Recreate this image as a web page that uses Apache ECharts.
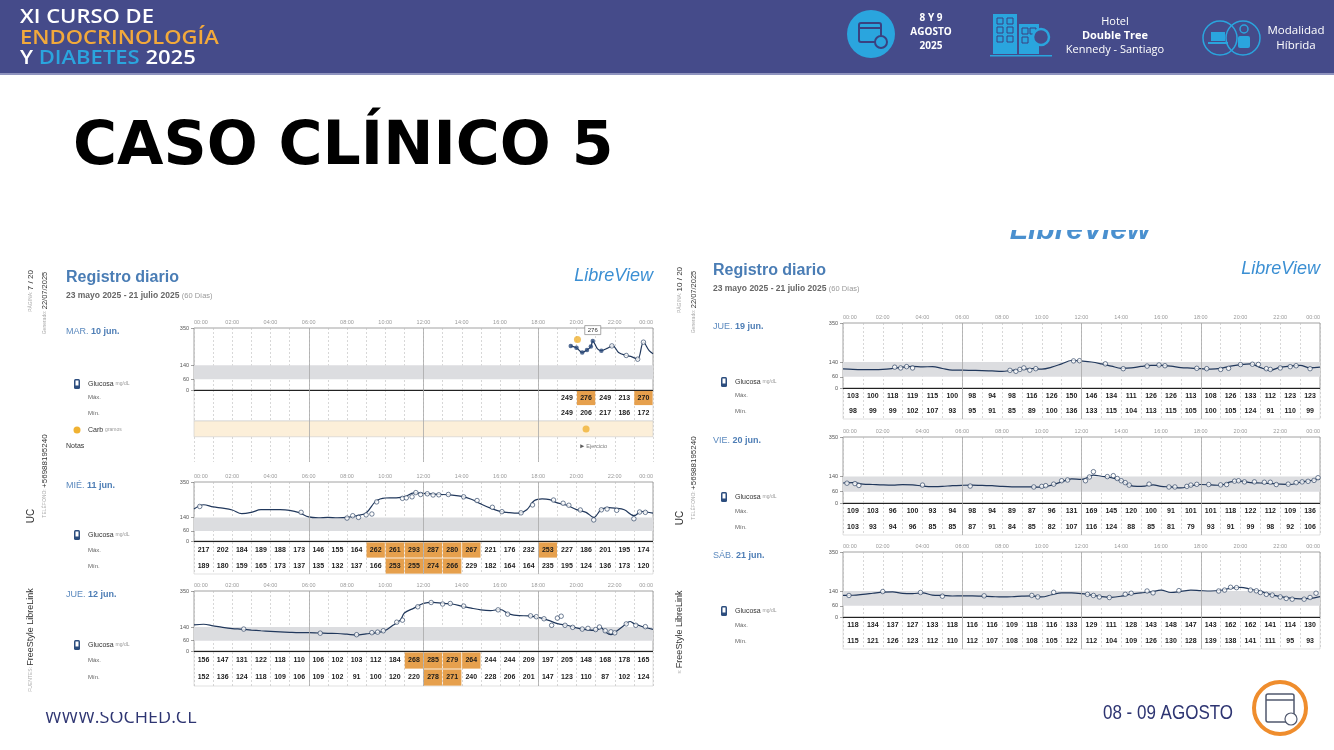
<!DOCTYPE html>
<html>
<head>
<meta charset="utf-8">
<script src="https://cdn.jsdelivr.net/npm/echarts@6/dist/echarts.min.js"></script>
<style>
html,body{margin:0;padding:0;background:#fff}
#main{width:1334px;height:750px}
</style>
</head>
<body>
<div id="main"></div>
<script>
var tickHours = [0, 2, 4, 6, 8, 10, 12, 14, 16, 18, 20, 22, 24];
var yTicks = [0, 60, 140, 350];
var sixHourLines = [6, 12, 18];
var highLimit = 250;

// MAR. 10 jun. (sólo desde las 19:00)
var mar10Start = 19;
var mar10Max = [249, 276, 249, 213, 270];
var mar10Min = [249, 206, 217, 186, 172];
var mar10Curve = [[19.7,249],[20.0,238],[20.3,212],[20.55,226],[20.75,245],[20.85,276],[21.1,232],[21.3,222],[21.6,235],[21.9,249],[22.2,212],[22.6,195],[22.9,187],[23.2,174],[23.5,270],[23.8,222],[24,205]];
var mar10Dots = [[19.7,249],[20.0,238],[20.3,212],[20.55,226],[20.75,245],[20.85,276],[21.3,222]];
var mar10Scans = [[21.85,249],[22.6,195],[23.2,174],[23.5,270]];
var mar10Carb = [[20.05,285]];
var mar10CarbRow = [[20.5,0.5]];
var mar10Notes = [[20.3,1.6,'Ejercicio']];

// MIÉ. 11 jun.
var mie11Max = [217,202,184,189,188,173,146,155,164,262,261,293,287,280,267,221,176,232,253,227,186,201,195,174];
var mie11Min = [189,180,159,165,173,137,135,132,137,166,253,255,274,266,229,182,164,164,235,195,124,136,173,120];
var mie11Curve = [[0,190],[0.5,215],[1,202],[1.5,195],[2,184],[2.5,162],[3,170],[3.5,186],[4,186],[4.5,186],[5,182],[5.5,168],[6,143],[6.5,138],[7,140],[7.5,138],[8,140],[8.5,150],[9,166],[9.5,235],[10,255],[10.5,256],[11,262],[11.5,285],[12,283],[12.5,278],[13,276],[13.5,272],[14,265],[14.5,248],[15,220],[15.5,195],[16,176],[16.5,168],[17,165],[17.4,185],[17.8,240],[18.2,250],[18.6,245],[19,226],[19.5,212],[20,186],[20.5,170],[20.9,140],[21.3,188],[21.7,198],[22,195],[22.5,185],[23,150],[23.4,175],[24,165]];
var mie11Scans = [[0.3,205],[5.6,170],[8.0,136],[8.3,150],[8.6,140],[9.0,155],[9.3,160],[9.55,232],[10.9,253],[11.1,256],[11.4,262],[11.6,287],[11.85,276],[12.2,280],[12.5,273],[12.8,274],[13.3,276],[14.1,262],[14.8,240],[15.6,200],[16.1,174],[17.1,167],[17.7,214],[18.8,243],[19.3,224],[19.6,212],[20.2,184],[20.9,125],[21.3,185],[21.6,190],[22.1,182],[23.0,132],[23.3,172],[23.6,170]];

// JUE. 12 jun.
var jue12Max = [156,147,131,122,118,110,106,102,103,112,184,268,285,279,264,244,244,209,197,205,148,168,178,165];
var jue12Min = [152,136,124,118,109,106,109,102,91,100,120,220,278,271,240,228,206,201,147,123,110,87,102,124];
var jue12Curve = [[0,152],[0.5,156],[1,147],[1.5,138],[2,131],[2.5,127],[3,122],[3.5,118],[4,115],[4.5,112],[5,109],[5.5,107],[6,107],[6.5,105],[7,103],[7.5,102],[8,98],[8.5,93],[9,100],[9.5,106],[10,120],[10.4,150],[10.8,182],[11,222],[11.5,250],[12,278],[12.5,284],[13,278],[13.5,274],[14,262],[14.5,250],[15,240],[15.5,236],[16,242],[16.5,215],[17,206],[17.5,205],[18,196],[18.5,180],[19,160],[19.5,150],[20,135],[20.5,125],[21,120],[21.3,135],[21.5,112],[21.8,95],[22,108],[22.5,150],[22.8,172],[23,160],[23.5,140],[24,126]];
var jue12Scans = [[2.6,128],[6.6,104],[8.5,95],[9.3,107],[9.6,110],[9.9,118],[10.6,168],[10.9,180],[11.7,258],[12.4,283],[13.0,274],[13.4,277],[14.1,262],[15.9,240],[16.4,215],[17.6,205],[17.9,200],[18.3,188],[18.7,150],[19.0,192],[19.2,203],[19.4,150],[19.8,138],[20.3,128],[20.6,132],[21.0,125],[21.2,140],[21.5,118],[21.8,112],[22.0,106],[22.6,158],[23.1,150],[23.6,142]];

// JUE. 19 jun.
var jue19Max = [103,100,118,119,115,100,98,94,98,116,126,150,146,134,111,126,126,113,108,126,133,112,123,123];
var jue19Min = [98,99,99,102,107,93,95,91,85,89,100,136,133,115,104,113,115,105,100,105,124,91,110,99];
var jue19Curve = [[0,103],[0.5,100],[1,99],[1.5,99],[2,100],[2.5,105],[3,112],[3.5,116],[4,114],[4.5,115],[5,105],[5.5,96],[6,96],[6.5,95],[7,94],[7.5,92],[8,90],[8.5,95],[9,100],[9.5,105],[10,102],[10.5,112],[11,130],[11.5,148],[12,145],[12.5,140],[13,130],[13.5,118],[14,106],[14.5,108],[15,116],[15.5,122],[16,122],[16.5,118],[17,110],[17.5,107],[18,104],[18.5,102],[19,106],[19.5,118],[20,126],[20.5,130],[21,110],[21.5,96],[22,112],[22.5,118],[23,122],[23.5,108],[24,112]];
var jue19Scans = [[2.6,112],[2.9,108],[3.2,115],[3.5,108],[8.4,95],[8.7,90],[8.9,100],[9.1,108],[9.4,96],[9.7,104],[11.6,146],[11.9,147],[13.2,130],[14.1,104],[15.3,118],[15.9,124],[16.2,120],[17.8,106],[18.3,104],[19.0,100],[19.4,106],[20.0,126],[20.6,128],[20.9,127],[21.3,104],[21.5,100],[22.0,108],[22.5,115],[22.8,120],[23.5,104]];

// VIE. 20 jun.
var vie20Max = [109,103,96,100,93,94,98,94,89,87,96,131,169,145,120,100,91,101,101,118,122,112,109,136];
var vie20Min = [103,93,94,96,85,85,87,91,84,85,82,107,116,124,88,85,81,79,93,91,99,98,92,106];
var vie20Curve = [[0,106],[0.5,108],[1,100],[1.5,98],[2,96],[2.5,95],[3,97],[3.5,96],[4,90],[4.5,87],[5,88],[5.5,92],[6,94],[6.5,95],[7,93],[7.5,92],[8,88],[8.5,86],[9,86],[9.5,85],[10,84],[10.5,95],[11,112],[11.5,128],[12,125],[12.3,135],[12.6,148],[13,142],[13.5,135],[14,118],[14.4,95],[14.8,88],[15.2,90],[15.6,96],[16,88],[16.5,85],[17,80],[17.5,92],[18,98],[18.5,96],[19,94],[19.5,112],[20,116],[20.5,108],[21,106],[21.5,104],[22,100],[22.5,98],[23,110],[23.5,118],[24,128]];
var vie20Scans = [[0.2,105],[0.6,103],[0.8,93],[4.0,95],[6.4,90],[9.6,85],[10.0,88],[10.2,92],[10.6,100],[11.0,118],[11.3,122],[12.2,118],[12.4,138],[12.6,166],[13.3,140],[13.6,145],[13.8,130],[14.0,118],[14.2,108],[14.4,95],[15.4,100],[16.4,85],[16.7,85],[17.3,88],[17.5,95],[17.8,99],[18.4,98],[19.0,96],[19.3,98],[19.7,116],[19.9,118],[20.2,112],[20.7,112],[21.2,110],[21.5,110],[21.8,98],[22.4,100],[22.8,108],[23.1,112],[23.4,115],[23.7,120],[23.9,134]];

// SÁB. 21 jun.
var sab21Max = [118,134,137,127,133,118,116,116,109,118,116,133,129,111,128,143,148,147,143,162,162,141,114,130];
var sab21Min = [115,121,126,123,112,110,112,107,108,108,105,122,112,104,109,126,130,128,139,138,141,111,95,93];
var sab21Curve = [[0,116],[0.5,117],[1,122],[1.5,128],[2,134],[2.5,135],[3,127],[3.5,126],[4,130],[4.5,118],[5,116],[5.5,113],[6,114],[6.5,114],[7,112],[7.5,110],[8,108],[8.5,109],[9,112],[9.5,114],[10,108],[10.5,120],[11,130],[11.5,130],[12,126],[12.5,118],[13,110],[13.5,106],[14,112],[14.5,124],[15,130],[15.5,135],[16,145],[16.5,132],[17,138],[17.5,145],[18,142],[18.5,140],[19,144],[19.5,155],[20,160],[20.5,150],[21,138],[21.5,122],[22,110],[22.5,102],[23,98],[23.5,100],[24,110]];
var sab21Scans = [[0.3,116],[2.0,137],[3.9,132],[5.0,112],[7.1,114],[9.5,116],[9.8,108],[10.6,133],[12.3,122],[12.6,116],[12.9,108],[13.4,105],[14.2,122],[14.5,128],[15.3,140],[15.6,130],[16.9,142],[18.9,140],[19.2,145],[19.5,160],[19.8,158],[20.5,145],[20.8,141],[21.0,132],[21.3,122],[21.6,118],[22.0,108],[22.3,100],[22.6,96],[23.2,96],[23.5,105],[23.8,128]];

// ---- composición ----
var FONT = '"Liberation Sans", Arial, sans-serif';
var NAVY = '#21385c';
var chart = echarts.init(document.getElementById('main'));
var grid = [], xAxis = [], yAxis = [], series = [], graphic = [];

function hourLabel(v) { var h = v % 24; return (h < 10 ? '0' : '') + h + ':00'; }
var dashed = {show: true, lineStyle: {color: '#bdbdbd', width: 0.6, type: [2, 2]}};
var solidLines = {silent: true, symbol: 'none', label: {show: false},
  lineStyle: {color: '#a8a8a8', type: 'solid', width: 0.8},
  data: sixHourLines.map(function (h) { return {xAxis: h}; })};

function renderCell(params, api) {
  var h = api.value(0), r = api.value(1), v = api.value(2);
  var a = api.coord([h, r]), b = api.coord([h + 1, r + 1]);
  var x = Math.min(a[0], b[0]), y = Math.min(a[1], b[1]);
  var w = Math.abs(b[0] - a[0]), hh = Math.abs(b[1] - a[1]);
  return {type: 'group', children: [
    {type: 'rect', shape: {x: x + 0.4, y: y + 0.4, width: w - 0.8, height: hh - 0.8},
      style: {fill: v > highLimit ? '#e6a04d' : 'rgba(0,0,0,0)'}},
    {type: 'text', style: {text: String(v), x: x + w / 2, y: y + hh / 2, align: 'center', verticalAlign: 'middle',
      fontSize: 7, fontWeight: 'bold', fontFamily: FONT, fill: '#1b1b1b'}}
  ]};
}

function addPlot(L, curve, scans, dots) {
  var gi = grid.length;
  grid.push({left: L.x, top: L.top, width: L.w, height: L.h, show: true, borderColor: '#8a8a8a', borderWidth: 0.8});
  xAxis.push({gridIndex: gi, type: 'value', min: 0, max: 24, interval: 1, position: 'top',
    axisLine: {show: false}, axisTick: {show: false},
    axisLabel: {customValues: tickHours, formatter: hourLabel, fontSize: 5.5, color: '#9a9a9a', margin: 3,
      fontFamily: FONT, alignMinLabel: 'left', alignMaxLabel: 'right'},
    splitLine: dashed});
  yAxis.push({gridIndex: gi, type: 'value', min: 0, max: 350, axisLine: {show: false}, splitLine: {show: false},
    axisTick: {show: true, customValues: yTicks, length: 3, lineStyle: {color: '#666', width: 0.6}},
    axisLabel: {customValues: yTicks, fontSize: 5.5, color: '#555', margin: 5, fontFamily: FONT}});
  var ml = JSON.parse(JSON.stringify(solidLines));
  ml.data.push({yAxis: 0, lineStyle: {color: '#222', width: 1.2}});
  series.push({type: 'line', xAxisIndex: gi, yAxisIndex: gi, data: curve, smooth: 0.35, showSymbol: false,
    lineStyle: {color: NAVY, width: 1.2}, z: 3, silent: true,
    markArea: {silent: true, itemStyle: {color: '#dcdde0'}, data: [[{yAxis: 60}, {yAxis: 140}]]},
    markLine: ml});
  series.push({type: 'scatter', xAxisIndex: gi, yAxisIndex: gi, data: scans, symbol: 'circle', symbolSize: 4.5,
    itemStyle: {color: '#fff', borderColor: NAVY, borderWidth: 0.8}, z: 4, silent: true});
  if (dots) {
    series.push({type: 'scatter', xAxisIndex: gi, yAxisIndex: gi, data: dots, symbol: 'circle', symbolSize: 4.5,
      itemStyle: {color: '#2b4a7a'}, z: 4, silent: true,
      markPoint: {silent: true, data: [{coord: [20.85, 276], value: 276}], symbol: 'rect', symbolSize: [16, 9], symbolOffset: [0, -11],
        itemStyle: {color: '#fff', borderColor: '#777', borderWidth: 0.6},
        label: {show: true, formatter: '276', fontSize: 6, color: '#333', fontFamily: FONT}}});
  }
  return gi;
}

function addTable(L, start, maxArr, minArr) {
  var gi = grid.length;
  grid.push({left: L.x, top: L.top + L.h + L.gap, width: L.w, height: L.rowH * 2, show: true, borderColor: '#cfcfcf', borderWidth: 0.6});
  xAxis.push({gridIndex: gi, type: 'value', min: 0, max: 24, interval: 1, axisLine: {show: false},
    axisTick: {show: false}, axisLabel: {show: false}, splitLine: dashed});
  yAxis.push({gridIndex: gi, type: 'value', min: 0, max: 2, inverse: true, show: false});
  var cells = [];
  maxArr.forEach(function (v, i) { cells.push([start + i, 0, v]); });
  minArr.forEach(function (v, i) { cells.push([start + i, 1, v]); });
  series.push({type: 'custom', xAxisIndex: gi, yAxisIndex: gi, renderItem: renderCell, data: cells, silent: true,
    markLine: JSON.parse(JSON.stringify(solidLines))});
}

function txt(x, y, text, opt) {
  var s = {text: text, fill: '#333', fontSize: 8, fontFamily: FONT, align: 'left', verticalAlign: 'middle'};
  for (var k in opt) if (k !== 'rotation' && k !== 'scaleX' && k !== 'z') s[k] = opt[k];
  return {type: 'text', x: x, y: y, rotation: opt.rotation || 0, scaleX: opt.scaleX || 1, z: opt.z || 10, style: s};
}

function dayLabels(L, lx, dow, date) {
  var glucY = L.top + L.h - 6;
  var tTop = L.top + L.h + L.gap;
  graphic.push(txt(lx, L.top + 4, '{a|' + dow + ' }{b|' + date + '}', {rich: {
    a: {fontSize: 9, fill: '#5b89be', fontFamily: FONT}, b: {fontSize: 9, fill: '#4d7db5', fontWeight: 'bold', fontFamily: FONT}}}));
  graphic.push({type: 'rect', shape: {x: lx + 8, y: glucY - 5, width: 6, height: 10, r: 1.5}, style: {fill: '#2c4d7e'}, z: 10});
  graphic.push({type: 'rect', shape: {x: lx + 9.5, y: glucY - 3.5, width: 3, height: 5}, style: {fill: '#fff'}, z: 11});
  graphic.push(txt(lx + 22, glucY, '{a|Glucosa }{b|mg/dL}', {rich: {
    a: {fontSize: 7, fill: '#333', fontFamily: FONT}, b: {fontSize: 5, fill: '#999', fontFamily: FONT}}}));
  graphic.push(txt(lx + 22, tTop + L.rowH * 0.5, 'Máx.', {fontSize: 6, fill: '#666'}));
  graphic.push(txt(lx + 22, tTop + L.rowH * 1.5, 'Mín.', {fontSize: 6, fill: '#666'}));
}

// posiciones de los paneles
var LM = {x: 194, w: 459, top: 328, h: 62, rowH: 15.5, gap: 0};
var LW = {x: 194, w: 459, top: 482, h: 59, rowH: 16, gap: 1};
var LJ = {x: 194, w: 459, top: 591, h: 60, rowH: 17, gap: 1};
var RJ = {x: 843, w: 477, top: 323, h: 65, rowH: 15.5, gap: 0};
var RV = {x: 843, w: 477, top: 437, h: 66, rowH: 16, gap: 0};
var RS = {x: 843, w: 477, top: 552, h: 65, rowH: 16, gap: 0};

// MAR 10
var gMar = addPlot(LM, mar10Curve, mar10Scans, mar10Dots);
series.push({type: 'scatter', xAxisIndex: gMar, yAxisIndex: gMar, data: mar10Carb, symbol: 'circle', symbolSize: 7,
  itemStyle: {color: '#f0b232'}, z: 5, silent: true});
addTable(LM, mar10Start, mar10Max, mar10Min);
// filas Carb / Notas
(function () {
  var gi = grid.length;
  grid.push({left: LM.x, top: LM.top + LM.h + LM.rowH * 2, width: LM.w, height: 41, show: false});
  xAxis.push({gridIndex: gi, type: 'value', min: 0, max: 24, interval: 1, axisLine: {show: false},
    axisTick: {show: false}, axisLabel: {show: false}, splitLine: dashed});
  yAxis.push({gridIndex: gi, type: 'value', min: 0, max: 2.6, inverse: true, show: false});
  series.push({type: 'scatter', xAxisIndex: gi, yAxisIndex: gi, data: mar10CarbRow, symbol: 'circle', symbolSize: 7,
    itemStyle: {color: '#f0b232'}, z: 5, silent: true,
    markArea: {silent: true, itemStyle: {color: '#fcefd9', borderColor: '#c9c9c9', borderWidth: 0.6},
      data: [[{yAxis: 0}, {yAxis: 1}]]},
    markLine: JSON.parse(JSON.stringify(solidLines))});
  series.push({type: 'scatter', xAxisIndex: gi, yAxisIndex: gi, data: mar10Notes, symbol: 'triangle', symbolRotate: -90,
    symbolSize: 4, itemStyle: {color: '#333'}, z: 5, silent: true,
    label: {show: true, position: 'right', distance: 2, formatter: function (p) { return p.data[2]; }, fontSize: 5.5, color: '#555', fontFamily: FONT}});
})();
addPlot(LW, mie11Curve, mie11Scans);
addTable(LW, 0, mie11Max, mie11Min);
addPlot(LJ, jue12Curve, jue12Scans);
addTable(LJ, 0, jue12Max, jue12Min);
addPlot(RJ, jue19Curve, jue19Scans);
addTable(RJ, 0, jue19Max, jue19Min);
addPlot(RV, vie20Curve, vie20Scans);
addTable(RV, 0, vie20Max, vie20Min);
addPlot(RS, sab21Curve, sab21Scans);
addTable(RS, 0, sab21Max, sab21Min);

// ---- encabezado ----
graphic.push({type: 'rect', shape: {x: 0, y: 0, width: 1334, height: 73}, style: {fill: '#454b8a'}, z: 1});
graphic.push({type: 'rect', shape: {x: 0, y: 73, width: 1334, height: 2}, style: {fill: '#8e93be'}, z: 1});
graphic.push(txt(20, 38, '{w|XI CURSO DE}\n{o|ENDOCRINOLOGÍA}\n{w|Y }{c|DIABETES}{w| 2025}', {scaleX: 1.1, rich: {
  w: {fontSize: 20, fill: '#fff', fontFamily: '"Open Sans"', fontWeight: 600, lineHeight: 20.5},
  o: {fontSize: 20, fill: '#f2a93b', fontFamily: '"Open Sans"', fontWeight: 600, lineHeight: 20.5},
  c: {fontSize: 20, fill: '#2aa5de', fontFamily: '"Open Sans"', fontWeight: 600, lineHeight: 20.5}}}));
// calendario
graphic.push({type: 'circle', shape: {cx: 871, cy: 34, r: 24}, style: {fill: '#2aa5de'}, z: 2});
graphic.push({type: 'rect', shape: {x: 859, y: 23, width: 22, height: 19, r: 2}, style: {fill: 'none', stroke: '#3a4180', lineWidth: 2}, z: 3});
graphic.push({type: 'line', shape: {x1: 859, y1: 28, x2: 881, y2: 28}, style: {stroke: '#3a4180', lineWidth: 2}, z: 3});
graphic.push({type: 'circle', shape: {cx: 881, cy: 42, r: 6}, style: {fill: '#2aa5de', stroke: '#3a4180', lineWidth: 2}, z: 4});
graphic.push(txt(931, 32, '8 Y 9\nAGOSTO\n2025', {align: 'center', fontSize: 10, fontWeight: 'bold', fill: '#fff', lineHeight: 14, fontFamily: '"Open Sans"'}));
// edificios
graphic.push({type: 'rect', shape: {x: 993, y: 14, width: 24, height: 40}, style: {fill: '#2aa5de'}, z: 2});
graphic.push({type: 'rect', shape: {x: 1019, y: 24, width: 20, height: 30}, style: {fill: '#2aa5de'}, z: 2});
[[997, 18], [1007, 18], [997, 27], [1007, 27], [997, 36], [1007, 36], [1022, 28], [1030, 28], [1022, 37]].forEach(function (p) {
  graphic.push({type: 'rect', shape: {x: p[0], y: p[1], width: 6, height: 6}, style: {fill: 'none', stroke: '#3a4180', lineWidth: 1}, z: 3});
});
graphic.push({type: 'circle', shape: {cx: 1041, cy: 37, r: 8}, style: {fill: '#454b8a', stroke: '#2aa5de', lineWidth: 2.5}, z: 3});
graphic.push({type: 'rect', shape: {x: 990, y: 55, width: 62, height: 1.5}, style: {fill: '#2aa5de'}, z: 2});
graphic.push(txt(1115, 36, '{a|Hotel}\n{b|Double Tree}\n{a|Kennedy - Santiago}', {align: 'center', rich: {
  a: {fontSize: 11, fill: '#fff', fontFamily: '"Open Sans"', lineHeight: 14, align: 'center'},
  b: {fontSize: 11, fill: '#fff', fontFamily: '"Open Sans"', fontWeight: 'bold', lineHeight: 14, align: 'center'}}}));
// modalidad
graphic.push({type: 'circle', shape: {cx: 1220, cy: 38, r: 17}, style: {fill: 'none', stroke: '#2aa5de', lineWidth: 1.5}, z: 2});
graphic.push({type: 'circle', shape: {cx: 1243, cy: 38, r: 17}, style: {fill: 'none', stroke: '#2aa5de', lineWidth: 1.5}, z: 2});
graphic.push({type: 'rect', shape: {x: 1211, y: 32, width: 14, height: 9}, style: {fill: '#2aa5de'}, z: 3});
graphic.push({type: 'rect', shape: {x: 1208, y: 42, width: 20, height: 2}, style: {fill: '#2aa5de'}, z: 3});
graphic.push({type: 'circle', shape: {cx: 1244, cy: 29, r: 4}, style: {fill: 'none', stroke: '#2aa5de', lineWidth: 1.5}, z: 3});
graphic.push({type: 'rect', shape: {x: 1238, y: 36, width: 12, height: 12, r: 2}, style: {fill: '#2aa5de'}, z: 3});
graphic.push(txt(1296, 38, 'Modalidad\nHíbrida', {align: 'center', fontSize: 11.5, fill: '#fff', lineHeight: 15, fontFamily: '"Open Sans"'}));

// título
graphic.push(txt(73, 148, 'CASO CLÍNICO 5', {fontSize: 60, fontWeight: 'bold', fill: '#000', fontFamily: '"DejaVu Sans"'}));

// ---- textos de los reportes ----
function reportHead(x, rx, y) {
  graphic.push(txt(x, y, 'Registro diario', {fontSize: 16, fontWeight: 'bold', fill: '#4a7db5'}));
  graphic.push(txt(x, y + 18, '{a|23 mayo 2025 - 21 julio 2025 }{b|(60 Días)}', {rich: {
    a: {fontSize: 8.5, fontWeight: 'bold', fill: '#666', fontFamily: FONT}, b: {fontSize: 7.5, fill: '#9a9a9a', fontFamily: FONT}}}));
  graphic.push(txt(rx, y - 2, 'LibreView', {align: 'right', fontSize: 18, fontStyle: 'italic', fill: '#3b8fd3'}));
}
reportHead(66, 653, 278);
reportHead(713, 1320, 271);

function sideTexts(x, pageTxt, pageY, phoneY, srcY, srcTxt) {
  var R = Math.PI / 2;
  graphic.push(txt(x, pageY, '{a|PÁGINA: }{b|' + pageTxt + '}', {rotation: R, align: 'center', rich: {
    a: {fontSize: 5, fill: '#aaa', fontFamily: FONT}, b: {fontSize: 8, fill: '#333', fontFamily: FONT}}}));
  graphic.push(txt(x + 14, pageY + 12, '{a|Generado: }{b|22/07/2025}', {rotation: R, align: 'center', rich: {
    a: {fontSize: 5, fill: '#aaa', fontFamily: FONT}, b: {fontSize: 7.5, fill: '#333', fontFamily: FONT}}}));
  graphic.push(txt(x, phoneY + 40, 'UC', {rotation: R, align: 'center', fontSize: 10, fill: '#333'}));
  graphic.push(txt(x + 14, phoneY, '{a|TELÉFONO: }{b|+56988195240}', {rotation: R, align: 'center', rich: {
    a: {fontSize: 5, fill: '#aaa', fontFamily: FONT}, b: {fontSize: 8, fill: '#333', fontFamily: FONT}}}));
  graphic.push(txt(x, srcY, srcTxt, {rotation: R, align: 'center', rich: {
    a: {fontSize: 5, fill: '#aaa', fontFamily: FONT}, b: {fontSize: 9, fill: '#333', fontFamily: FONT}}}));
}
sideTexts(31, '7 / 20', 291, 476, 640, '{a|FUENTES: }{b|FreeStyle LibreLink}');
sideTexts(680, '10 / 20', 290, 478, 632, '{a|s: }{b|FreeStyle LibreLink}');

// etiquetas de cada día
dayLabels(LM, 66, 'MAR.', '10 jun.');
dayLabels(LW, 66, 'MIÉ.', '11 jun.');
dayLabels(LJ, 66, 'JUE.', '12 jun.');
dayLabels(RJ, 713, 'JUE.', '19 jun.');
dayLabels(RV, 713, 'VIE.', '20 jun.');
dayLabels(RS, 713, 'SÁB.', '21 jun.');
graphic.push({type: 'circle', shape: {cx: 77, cy: 430, r: 3.5}, style: {fill: '#f0b232'}, z: 10});
graphic.push(txt(88, 430, '{a|Carb }{b|gramos}', {rich: {
  a: {fontSize: 7, fill: '#333', fontFamily: FONT}, b: {fontSize: 5, fill: '#999', fontFamily: FONT}}}));
graphic.push(txt(66, 446, 'Notas', {fontSize: 7, fill: '#333'}));

// "LibreView" recortado en la parte superior del panel derecho
graphic.push(txt(1080, 231, 'LibreView', {align: 'center', fontSize: 30, fontStyle: 'italic', fontWeight: 'bold', fill: '#4a90cf', z: 5}));
graphic.push({type: 'rect', shape: {x: 990, y: 200, width: 180, height: 30}, style: {fill: '#fff'}, z: 6});

// ---- pie ----
graphic.push(txt(45, 718, 'WWW.SOCHED.CL', {fontSize: 18, fill: '#2e3572', fontFamily: '"Open Sans"', z: 5}));
graphic.push({type: 'rect', shape: {x: 30, y: 690, width: 200, height: 22}, style: {fill: '#fff'}, z: 6});
graphic.push(txt(1168, 713, '08 - 09 AGOSTO', {align: 'center', scaleX: 0.85, fontSize: 20, fill: '#2e3572', fontFamily: '"Liberation Sans"'}));
graphic.push({type: 'circle', shape: {cx: 1280, cy: 708, r: 26}, style: {fill: '#fff', stroke: '#ef8d2d', lineWidth: 4}, z: 10});
graphic.push({type: 'rect', shape: {x: 1266, y: 694, width: 28, height: 28, r: 2}, style: {fill: 'none', stroke: '#50586e', lineWidth: 1.5}, z: 11});
graphic.push({type: 'line', shape: {x1: 1266, y1: 700, x2: 1294, y2: 700}, style: {stroke: '#50586e', lineWidth: 1.5}, z: 11});
graphic.push({type: 'circle', shape: {cx: 1291, cy: 719, r: 6}, style: {fill: '#fff', stroke: '#50586e', lineWidth: 1.2}, z: 12});

chart.setOption({
  animation: false,
  backgroundColor: '#fff',
  grid: grid,
  xAxis: xAxis,
  yAxis: yAxis,
  series: series,
  graphic: {elements: graphic}
});
</script>
</body>
</html>
